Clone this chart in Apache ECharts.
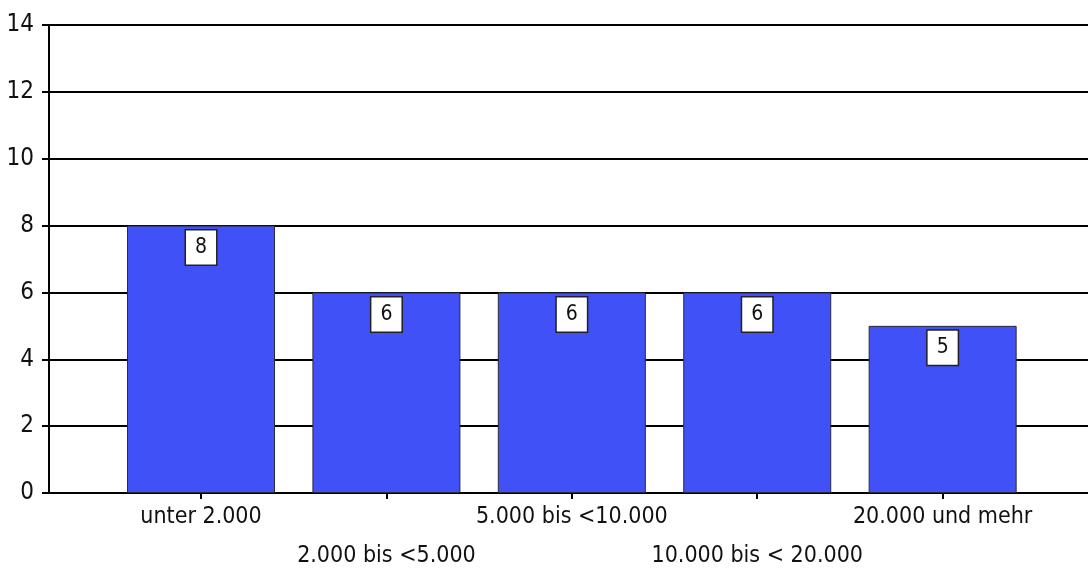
<!DOCTYPE html>
<html>
<head>
<meta charset="utf-8">
<script src="https://cdn.jsdelivr.net/npm/echarts@6/dist/echarts.min.js"></script>
<style>
  html, body { margin: 0; padding: 0; background: #ffffff; }
  #chart { width: 1088px; height: 572px; }
</style>
</head>
<body>
<div id="chart"></div>
<script>
// Size classes and counts per class
const categories = ['unter 2.000', '2.000 bis <5.000', '5.000 bis <10.000', '10.000 bis < 20.000', '20.000 und mehr'];
const values = [8, 6, 6, 6, 5];
const yTicks = [0, 2, 4, 6, 8, 10, 12, 14];

const FONT = "'DejaVu Sans Condensed', 'Liberation Sans Narrow', sans-serif";
const positions = categories.map((_, i) => i);
// labels are staggered on two rows: even classes on the upper row, odd ones below
const upperRow = positions.filter(i => i % 2 === 0);
const lowerRow = positions.filter(i => i % 2 === 1);

const X_MIN = -0.8199;
const X_MAX = 4.784;

const labelText = v => categories[Math.round(v)] || '';

const chart = echarts.init(document.getElementById('chart'), null, { renderer: 'canvas' });

chart.setOption({
  animation: false,
  backgroundColor: '#ffffff',
  grid: { left: 49, right: 0, top: 25, bottom: 79, containLabel: false, outerBoundsMode: 'none' },
  xAxis: [{
    type: 'value',
    min: X_MIN,
    max: X_MAX,
    splitLine: { show: false },
    axisLine: { show: true, onZero: false, lineStyle: { color: '#000', width: 2 } },
    axisTick: { show: true, customValues: positions, length: 6, lineStyle: { color: '#000', width: 2 } },
    axisLabel: {
      customValues: upperRow,
      showMinLabel: true,
      showMaxLabel: true,
      margin: 13,
      color: '#111',
      fontFamily: FONT,
      fontSize: 23,
      formatter: labelText
    }
  }, {
    type: 'value',
    position: 'bottom',
    min: X_MIN,
    max: X_MAX,
    splitLine: { show: false },
    axisLine: { show: false },
    axisTick: { show: false },
    axisLabel: {
      customValues: lowerRow,
      showMinLabel: true,
      showMaxLabel: true,
      margin: 52,
      color: '#111',
      fontFamily: FONT,
      fontSize: 23,
      formatter: labelText
    }
  }],
  yAxis: {
    type: 'value',
    min: yTicks[0],
    max: yTicks[yTicks.length - 1],
    interval: 2,
    axisLine: { show: true, onZero: false, lineStyle: { color: '#000', width: 2 } },
    axisTick: { show: true, length: 7, lineStyle: { color: '#000', width: 2 } },
    splitLine: { show: true, lineStyle: { color: '#000', width: 2 } },
    axisLabel: { margin: 15, color: '#111', fontFamily: FONT, fontSize: 24 }
  },
  series: [{
    type: 'bar',
    xAxisIndex: 0,
    data: values.map((v, i) => [positions[i], v]),
    barWidth: 148,
    itemStyle: { color: '#3F51F7', borderColor: '#2a2a3a', borderWidth: 1 },
    label: {
      show: true,
      position: 'insideTop',
      distance: 5,
      formatter: p => String(p.value[1]),
      color: '#111',
      fontFamily: FONT,
      fontSize: 21,
      lineHeight: 20,
      backgroundColor: '#ffffff',
      borderColor: '#222',
      borderWidth: 1.5,
      padding: [7, 9]
    },
    z: 3
  }]
});
</script>
</body>
</html>
